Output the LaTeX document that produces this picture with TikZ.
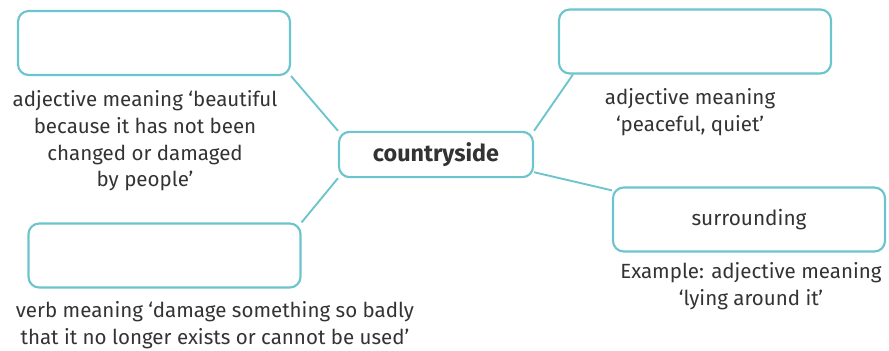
\documentclass[tikz,border=0pt]{standalone}
\usepackage{fontspec}
\setmainfont{Fira Sans}
\definecolor{teal}{HTML}{6CC4CC}
\definecolor{ink}{HTML}{333333}
\begin{document}
\begin{tikzpicture}[x=0.75pt,y=-0.75pt,
	box/.style={draw=teal,line width=1.6pt,rounded corners=8pt,minimum width=204pt,minimum height=48pt,inner sep=0pt},
	note/.style={text=ink,align=center,font=\fontsize{15.4}{20}\selectfont},
	link/.style={draw=teal,line width=1.4pt}]
		\useasboundingbox (0,0) rectangle (889,350);
		
		\node[box,minimum width=145.5pt,minimum height=34pt] (cen) at (436,154.5) {\textcolor{ink}{\fontsize{17.5}{20}\selectfont\bfseries countryside}};
		\node[box] (tl) at (154,43) {};
		\node[box] (tr) at (695,41.5) {};
		\node[box] (bl) at (164.5,255.5) {};
		\node[box] (br) at (749,219.5) {\textcolor{ink}{\fontsize{15.6}{18}\selectfont surrounding}};
		
		\draw[link] (tl.south east) -- (cen.north west);
		\draw[link] (tr.south west) ++(15,0) coordinate (trc) -- (cen.north east);
		\draw[link] (bl.north east) -- (cen.south west);
		\draw[link] (cen.south east) ++(0,-6) coordinate (cenc) -- (br.168);
		
		\node[note] (tlnote) at (145,141) {adjective meaning ‘beautiful\\because it has not been\\changed or damaged\\by people’};
		\node[note] (trnote) at (690,112) {adjective meaning\\‘peaceful, quiet’};
		\node[note] (brnote) at (751,286) {Example: adjective meaning\\‘lying around it’};
		\node[note] (blnote) at (215,325) {verb meaning ‘damage something so badly\\that it no longer exists or cannot be used’};
		\end{tikzpicture}
\end{document}
